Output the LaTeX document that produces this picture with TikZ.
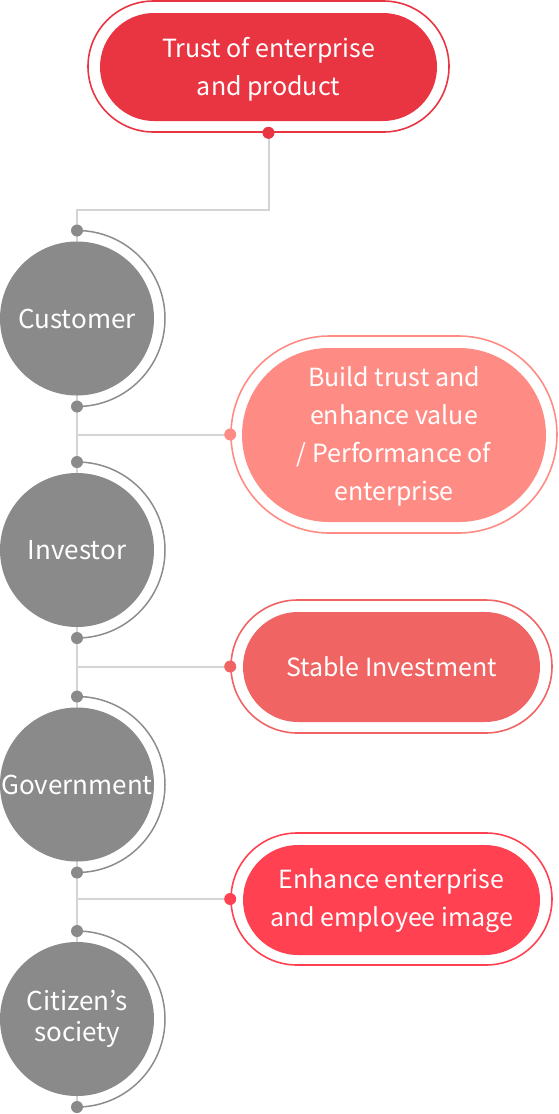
\documentclass[tikz,border=0pt]{standalone}
\usepackage{fontspec}
\setmainfont{Noto Sans CJK KR}
\definecolor{topc}{RGB}{233,52,66}
\definecolor{pbuild}{RGB}{255,140,132}
\definecolor{pstable}{RGB}{240,100,100}
\definecolor{penh}{RGB}{255,65,82}
\definecolor{gfill}{RGB}{138,138,138}
\definecolor{garc}{RGB}{140,140,140}
\definecolor{conncol}{RGB}{212,212,212}
\begin{document}
\begin{tikzpicture}[x=1pt,y=-1pt,
  pilltext/.style={text=white,align=center,inner sep=0pt,font=\fontsize{25}{38}\selectfont},
  outl/.style={draw=#1,line width=1.6pt,inner sep=0pt},
  fillp/.style={fill=#1,inner sep=0pt},
  pdot/.style={circle,fill=#1,inner sep=0pt,minimum size=12pt},
  gdot/.style={circle,fill=gfill,inner sep=0pt,minimum size=12pt},
  circ/.style={circle,fill=gfill,inner sep=0pt,minimum size=154pt,text=white,align=center,font=\fontsize{26}{31}\selectfont},
  arcline/.style={draw=garc,line width=1.5pt},
  conn/.style={draw=conncol,line width=2pt}]
\useasboundingbox (0,0) rectangle (559,1114);

% top pill
\node[outl=topc,minimum width=361pt,minimum height=131pt,rounded corners=65.5pt] (topo) at (268.5,66.5) {};
\node[fillp=topc,minimum width=337pt,minimum height=108pt,rounded corners=54pt] (topi) at (268.5,67) {};
\node[pilltext] (topt) at ([yshift=-2.5pt]topi.center) {Trust of enterprise\\and product};

% pill 2
\node[outl=pbuild,minimum width=326pt,minimum height=197pt,rounded corners=98.5pt] (p2o) at (394,434.5) {};
\node[fillp=pbuild,minimum width=304pt,minimum height=174pt,rounded corners=87pt] (p2i) at (394,435) {};
\node[pilltext] (p2t) at ([yshift=-1pt]p2i.center) {Build trust and\\enhance value\\/ Performance of\\enterprise};

% pill 3
\node[outl=pstable,minimum width=321pt,minimum height=133pt,rounded corners=66.5pt] (p3o) at (391.5,666.5) {};
\node[fillp=pstable,minimum width=297pt,minimum height=110pt,rounded corners=55pt] (p3i) at (391.5,667) {};
\node[pilltext] (p3t) at (p3i.center) {Stable Investment};

% pill 4
\node[outl=penh,minimum width=321pt,minimum height=132pt,rounded corners=66pt] (p4o) at (391.5,899) {};
\node[fillp=penh,minimum width=297pt,minimum height=110pt,rounded corners=55pt] (p4i) at (391.5,900) {};
\node[pilltext] (p4t) at ([yshift=-1pt]p4i.center) {Enhance enterprise\\and employee image};

% dots positions (gray)
\coordinate (j0) at (77,210);
\coordinate (c1t) at (77,230.5);
\coordinate (c1b) at (77,406.5);
\coordinate (c2t) at (77,462);
\coordinate (c2b) at (77,638);
\coordinate (c3t) at (77,696.5);
\coordinate (c3b) at (77,872.5);
\coordinate (c4t) at (77,931);
\coordinate (c4b) at (77,1107);

% connectors
\draw[conn] (topo.south) -- (topo.south |- j0) -- (j0) -- (c1t);
\draw[conn] (c1t) -- (c1b) -- (c2t) -- (c2b) -- (c3t) -- (c3b) -- (c4t) -- (c4b);
\draw[conn] (p2o.west) -- (p2o.west -| c1b);
\draw[conn] (p3o.west) -- (p3o.west -| c2b);
\draw[conn] (p4o.west) -- (p4o.west -| c3b);

% circles
\node[circ] (cust) at (77,318.5) {Customer};
\node[circ] (inv) at (77,550) {Investor};
\node[circ] (gov) at (77,784.5) {Government};
\node[circ] (cit) at (77,1019) {Citizen’s\\society};

% arcs
\draw[arcline] (c1t) arc[start angle=90,end angle=-90,radius=88pt];
\draw[arcline] (c2t) arc[start angle=90,end angle=-90,radius=88pt];
\draw[arcline] (c3t) arc[start angle=90,end angle=-90,radius=88pt];
\draw[arcline] (c4t) arc[start angle=90,end angle=-90,radius=88pt];

% dots
\node[pdot=topc] (topd) at (topo.south) {};
\node[pdot=pbuild] (p2d) at (p2o.west) {};
\node[pdot=pstable] (p3d) at (p3o.west) {};
\node[pdot=penh] (p4d) at (p4o.west) {};
\foreach \c in {c1t,c1b,c2t,c2b,c3t,c3b,c4t,c4b}{\node[gdot] at (\c) {};}
\end{tikzpicture}
\end{document}
